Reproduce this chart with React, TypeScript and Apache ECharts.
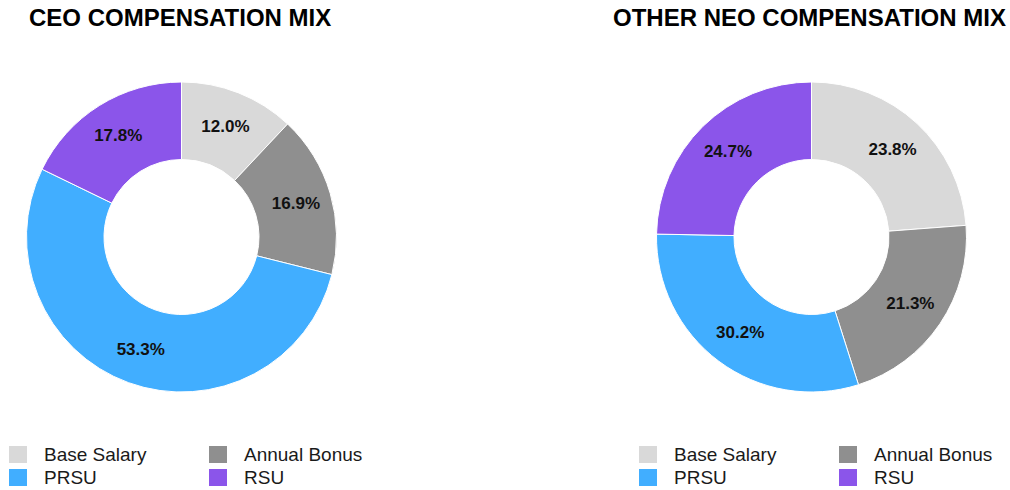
import React, { useEffect, useRef } from "react";
import * as echarts from "echarts";

const categories = ["Base Salary", "Annual Bonus", "PRSU", "RSU"];
const colors = ["#d9d9d9", "#8f8f8f", "#41aeff", "#8b55ea"];
const ceoValues = [12.0, 16.9, 53.3, 17.8];
const neoValues = [23.8, 21.3, 30.2, 24.7];
const titles = ["CEO COMPENSATION MIX", "OTHER NEO COMPENSATION MIX"];

const FONT = "'Liberation Sans', Arial, sans-serif";

function makeData(values: number[]) {
  return categories.map((name, i) => ({
    name,
    value: values[i],
    itemStyle: { color: colors[i] },
  }));
}

function makeLegend(left: number, names: string[]) {
  return {
    orient: "vertical",
    left,
    top: 444,
    padding: 0,
    itemGap: 2,
    itemWidth: 20,
    itemHeight: 19,
    icon: "rect",
    selectedMode: false,
    data: names,
    textStyle: {
      fontFamily: FONT,
      fontSize: 19,
      color: "#1a1a1a",
      padding: [3, 0, 0, 11],
    },
  };
}

function makePie(center: number[], values: number[]) {
  return {
    type: "pie",
    center,
    radius: [77.5, 155],
    startAngle: 90,
    clockwise: true,
    avoidLabelOverlap: false,
    data: makeData(values),
    itemStyle: { borderColor: "#ffffff", borderWidth: 1 },
    label: {
      show: true,
      position: "inside",
      formatter: (p: any) => p.value.toFixed(1) + "%",
      fontFamily: FONT,
      fontSize: 17,
      fontWeight: "bold",
      color: "#111111",
    },
    labelLine: { show: false },
    emphasis: { disabled: true },
  };
}

export default function App() {
  const ref = useRef<HTMLDivElement>(null);
  useEffect(() => {
    if (!ref.current) return;
    const chart = echarts.init(ref.current, null, { renderer: "svg" });
    chart.setOption({
      animation: false,
      backgroundColor: "#ffffff",
      title: [
        {
          text: titles[0],
          left: 29,
          top: 5,
          padding: 0,
          textStyle: { fontFamily: FONT, fontSize: 24, fontWeight: "bold", color: "#000000" },
        },
        {
          text: titles[1],
          left: 613,
          top: 5,
          padding: 0,
          textStyle: { fontFamily: FONT, fontSize: 24, fontWeight: "bold", color: "#000000" },
        },
      ],
      legend: [
        makeLegend(7, ["Base Salary", "PRSU"]),
        makeLegend(207, ["Annual Bonus", "RSU"]),
        makeLegend(637, ["Base Salary", "PRSU"]),
        makeLegend(837, ["Annual Bonus", "RSU"]),
      ],
      series: [makePie([181.5, 237], ceoValues), makePie([811.5, 237], neoValues)],
    });
    return () => chart.dispose();
  }, []);
  return (
    <div
      ref={ref}
      style={{ position: "fixed", left: 0, top: 0, width: 1010, height: 490 }}
    />
  );
}
